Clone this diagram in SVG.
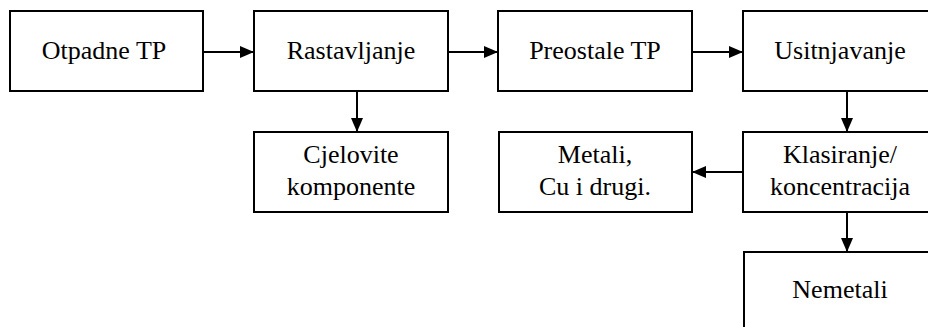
<svg xmlns="http://www.w3.org/2000/svg" width="928" height="327" viewBox="0 0 928 327">
<style>
.box{fill:#fff;stroke:#000;stroke-width:2}
.t{font-family:"Liberation Serif","Times New Roman",serif;font-size:26px;fill:#000;text-anchor:middle}
.c{stroke:#000;stroke-width:2;fill:none;marker-end:url(#ah)}
</style>
<defs>
<marker id="ah" markerWidth="14" markerHeight="12" refX="14" refY="6" orient="auto" markerUnits="userSpaceOnUse">
<path d="M0,0 L14,6 L0,12 Z" fill="#000"/>
</marker>
</defs>
<rect width="928" height="327" fill="#fff"/>
<g id="connectors">
<line class="c" x1="203" y1="52" x2="254" y2="52"/>
<line class="c" x1="448" y1="52" x2="498" y2="52"/>
<line class="c" x1="692" y1="52" x2="743" y2="52"/>
<line class="c" x1="357" y1="91" x2="357" y2="132"/>
<line class="c" x1="847" y1="91" x2="847" y2="132"/>
<line class="c" x1="743" y1="172" x2="692" y2="172"/>
<line class="c" x1="847" y1="212" x2="847" y2="252"/>
</g>
<g id="otpadne"><rect class="box" x="10" y="11" width="193" height="80"/><text class="t" x="104" y="59">Otpadne TP</text></g>
<g id="rastavljanje"><rect class="box" x="254" y="11" width="194" height="80"/><text class="t" x="351" y="59">Rastavljanje</text></g>
<g id="preostale"><rect class="box" x="498" y="11" width="194" height="80"/><text class="t" x="595" y="59">Preostale TP</text></g>
<g id="usitnjavanje"><rect class="box" x="743" y="11" width="194" height="80"/><text class="t" x="840" y="59">Usitnjavanje</text></g>
<g id="cjelovite"><rect class="box" x="254" y="132" width="194" height="80"/><text class="t" x="351" y="163">Cjelovite</text><text class="t" x="351" y="195">komponente</text></g>
<g id="metali"><rect class="box" x="499" y="132" width="193" height="80"/><text class="t" x="595" y="163">Metali,</text><text class="t" x="595" y="195">Cu i drugi.</text></g>
<g id="klasiranje"><rect class="box" x="743" y="132" width="194" height="80"/><text class="t" x="840" y="163">Klasiranje/</text><text class="t" x="840" y="195">koncentracija</text></g>
<g id="nemetali"><rect class="box" x="744" y="252" width="194" height="90"/><text class="t" x="840" y="298">Nemetali</text></g>
</svg>
